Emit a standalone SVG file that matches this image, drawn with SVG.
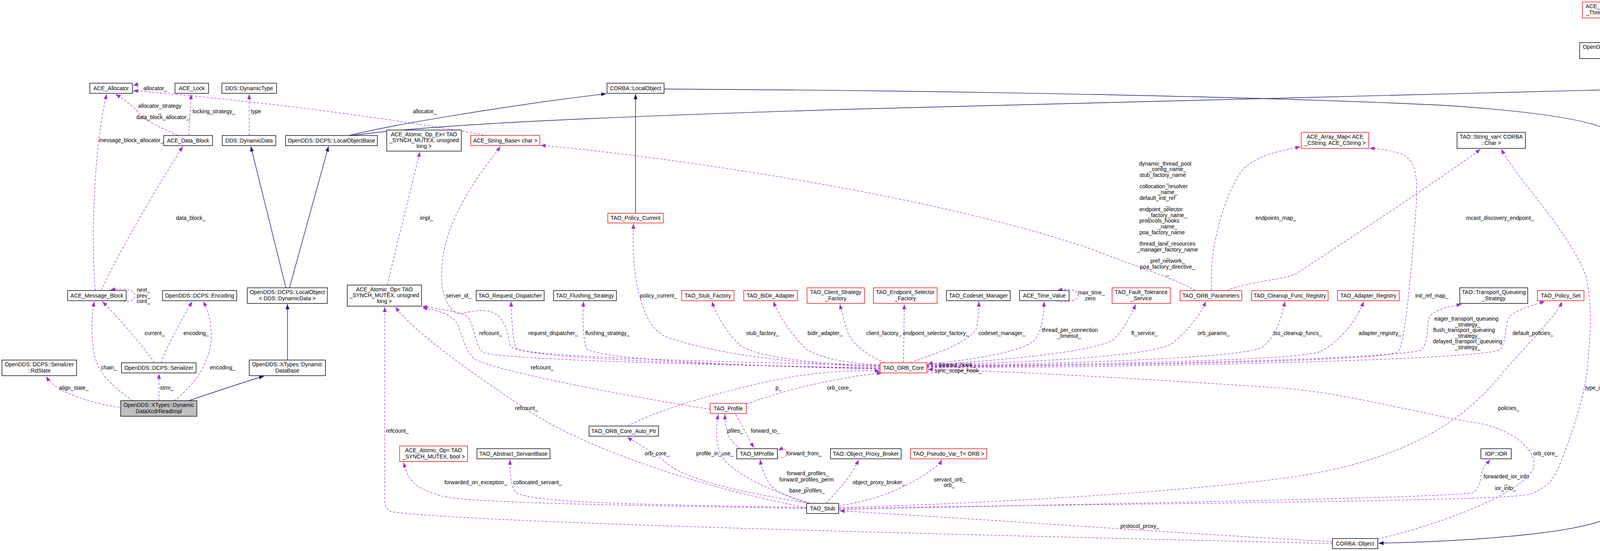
<svg xmlns="http://www.w3.org/2000/svg" width="4500" height="1411" viewBox="0 0 4500 1411">
<style>
text{font-family:"Liberation Sans",Arial,sans-serif;font-size:14px;fill:#000}
.b rect{fill:#fff;stroke:#000;stroke-width:1.4}
.b.r rect{stroke:#f00}
.b.g rect{fill:#bfbfbf}
.b text{text-anchor:middle}
.e{fill:none;stroke:#9a32cd;stroke-width:1.2;stroke-dasharray:6,4;marker-end:url(#pa)}
.i{fill:none;stroke:#191970;stroke-width:1.4;marker-end:url(#na)}
.m{text-anchor:middle}
</style>
<defs>
<marker id="pa" markerUnits="userSpaceOnUse" markerWidth="14" markerHeight="12" refX="13" refY="5" orient="auto"><path d="M0,0L13,5L0,10z" fill="#9a32cd"/></marker>
<marker id="na" markerUnits="userSpaceOnUse" markerWidth="14" markerHeight="12" refX="13" refY="5" orient="auto"><path d="M0,0L13,5L0,10z" fill="#191970"/></marker>
</defs>
<rect width="4500" height="1411" fill="#fff"/>
<g id="edges">
<path class="e" d="M339,235 C357,238 357,214 341,219"/>
<path class="e" d="M455,347 C420,330 370,310 355,290 C340,270 310,250 296,241"/>
<path class="e" d="M483,347 C486,300 488,270 489,241"/>
<path class="e" d="M638,347 L638,241"/>
<path class="e" d="M1248,347 C1150,330 800,270 341,232"/>
<path class="e" d="M244,744 C235,650 235,400 273,241"/>
<path class="e" d="M259,744 C300,650 420,450 468,375"/>
<path class="e" d="M305,770 C330,776 345,770 345,757 C345,740 320,738 282,742"/>
<path class="e" d="M395,929 C370,890 300,810 262,772"/>
<path class="e" d="M412,929 C430,880 470,810 492,772"/>
<path class="e" d="M340,1026 C290,990 250,960 240,900 C232,850 235,800 242,772"/>
<path class="e" d="M446,1026 C480,1000 530,950 540,880 C545,830 530,790 520,772"/>
<path class="e" d="M407,1026 L407,957"/>
<path class="e" d="M307,1043 C250,1035 200,1020 160,1000 C135,985 125,975 118,964"/>
<path class="i" d="M483,1026 C560,1000 620,980 676,963"/>
<path class="i" d="M736,922 L736,779"/>
<path class="i" d="M732,737 L642,375"/>
<path class="i" d="M741,737 L841,375"/>
<path class="i" d="M893,347 C1000,320 1300,270 1552,240"/>
<path class="i" d="M900,347 C1100,320 1500,300 2200,279 C3000,256 3700,242 4110,230"/>
<path class="i" d="M1627,546 L1627,241"/>
<path class="i" d="M1700,228 C2500,232 3300,250 3700,270 C4000,290 4142,320 4142,360 L4142,1300 C4142,1360 3800,1385 3529,1391"/>
<path class="e" d="M991,730 L1075,389"/>
<path class="e" d="M2253,942 C1800,935 1260,920 1236,902 C1215,885 1215,830 1196,810 C1170,795 1110,790 1081,784"/>
<path class="e" d="M1818,1048 C1700,1030 1300,960 1218,921 C1190,900 1185,860 1178,850 C1170,815 1150,800 1081,788"/>
<path class="e" d="M2065,1300 C1800,1250 1500,1150 1350,1050 C1200,950 1060,850 1012,786"/>
<path class="e" d="M3411,1392 C2500,1370 1200,1340 1000,1310 C985,1300 985,1290 985,1280 L985,786"/>
<path class="e" d="M2253,936 C1800,925 1320,915 1307,887 C1300,850 1290,800 1245,796 C1200,792 1180,810 1165,800 C1130,770 1125,720 1135,650 C1160,520 1250,420 1281,375"/>
<path class="e" d="M2253,944 C1900,935 1340,920 1320,890 C1310,850 1310,800 1308,772"/>
<path class="e" d="M2253,945 C1900,938 1510,920 1500,890 C1490,850 1492,800 1494,772"/>
<path class="e" d="M2253,940 C2000,930 1800,900 1700,860 C1640,830 1615,700 1622,573"/>
<path class="e" d="M2253,937 C2050,930 1920,910 1890,880 C1860,850 1830,800 1823,772"/>
<path class="e" d="M2253,935 C2150,930 2080,910 2060,890 C2020,850 1990,800 1980,772"/>
<path class="e" d="M2265,929 C2220,910 2180,880 2170,850 C2160,820 2155,800 2150,779"/>
<path class="e" d="M2313,929 L2315,779"/>
<path class="e" d="M2330,929 C2380,910 2480,880 2500,840 C2505,810 2506,790 2506,772"/>
<path class="e" d="M2373,933 C2500,920 2620,900 2650,870 C2670,840 2672,800 2673,772"/>
<path class="e" d="M2705,770 C2730,778 2760,770 2760,757 C2760,740 2730,738 2707,744"/>
<path class="e" d="M2373,935 C2600,920 2800,900 2850,870 C2880,840 2900,800 2907,779"/>
<path class="e" d="M2373,936 C2700,925 2950,910 3000,880 C3050,840 3075,800 3087,772"/>
<path class="e" d="M2373,937 C2800,930 3180,915 3230,890 C3270,860 3280,810 3290,772"/>
<path class="e" d="M2373,938 C2900,932 3340,920 3380,900 C3420,880 3470,830 3491,772"/>
<path class="e" d="M2373,939 C2900,935 3560,925 3580,900 C3600,880 3620,600 3626,520 C3630,440 3620,410 3590,395 C3560,385 3530,380 3506,380"/>
<path class="e" d="M2373,940 C3000,935 3620,915 3640,895 C3660,870 3650,830 3660,810 C3680,790 3710,785 3742,779"/>
<path class="e" d="M2373,942 C3000,940 3820,920 3840,895 C3860,870 3850,830 3865,810 C3880,795 3920,782 3955,772"/>
<path class="e" d="M2373,951 C2390,958 2410,952 2410,942 C2410,932 2390,928 2375,933"/>
<path class="e" d="M3060,744 C3000,710 2900,680 2800,640 C2400,500 1700,400 1384,372"/>
<path class="e" d="M3101,744 L3101,700 C3105,600 3140,500 3170,450 C3200,400 3280,385 3329,376"/>
<path class="e" d="M3140,744 C3200,720 3300,714 3320,700 C3500,580 3700,450 3790,382"/>
<path class="e" d="M2149,1302 C2800,1290 3800,1285 3912,1267 C3960,1250 3975,1230 3989,1199 C4030,1100 4060,1000 4065,927 C4072,850 4078,780 4058,700 C4000,570 3900,480 3843,382"/>
<path class="e" d="M2147,1300 C2800,1280 3200,1240 3350,1215 C3600,1170 3750,1080 3850,950 C3940,850 3990,800 3998,772"/>
<path class="e" d="M2147,1305 C2800,1290 3700,1275 3770,1262 C3790,1250 3790,1220 3795,1205 C3800,1190 3808,1185 3815,1177"/>
<path class="e" d="M3527,1380 C3700,1340 3900,1260 3925,1200 C3940,1150 3860,1090 3760,1080 C3600,1050 3450,1010 3300,995 C3000,975 2600,950 2375,946"/>
<path class="e" d="M3411,1387 C3000,1365 2600,1335 2149,1308"/>
<path class="e" d="M1607,1091 C1700,1040 1900,990 2000,970 C2100,950 2200,948 2253,950"/>
<path class="e" d="M1911,1035 C2000,1000 2150,965 2258,955"/>
<path class="e" d="M2070,1289 C1900,1260 1750,1230 1700,1180 C1660,1150 1620,1130 1606,1119"/>
<path class="e" d="M2075,1289 C1950,1250 1850,1200 1840,1150 C1830,1110 1835,1080 1839,1061"/>
<path class="e" d="M1895,1149 C1870,1130 1855,1110 1856,1061"/>
<path class="e" d="M1884,1062 C1900,1090 1915,1120 1930,1147"/>
<path class="e" d="M1990,1170 C2005,1176 2015,1168 2015,1160 C2015,1150 2005,1147 1992,1153"/>
<path class="e" d="M2072,1289 C2000,1270 1970,1250 1960,1220 C1950,1200 1948,1190 1946,1177"/>
<path class="e" d="M2115,1289 C2150,1250 2180,1220 2198,1177"/>
<path class="e" d="M2147,1295 C2250,1280 2310,1250 2360,1220 C2390,1200 2405,1190 2411,1177"/>
<path class="e" d="M2065,1302 C1700,1295 1200,1290 1130,1270 C1060,1250 1045,1230 1033,1184"/>
<path class="e" d="M2065,1300 C1700,1292 1350,1290 1320,1260 C1305,1240 1305,1200 1306,1177"/>
<path class="e" d="M4133,109 L4133,48"/>
<path class="e" d="M4198,213 C4190,190 4180,170 4151,152"/>
<path class="i" d="M4227,213 L4340,145"/>
<path class="i" d="M4308,347 C4350,300 4374,260 4374,200 L4373,145"/>
<path class="e" d="M4250,347 C4220,330 4200,300 4198,270 C4197,255 4199,250 4199,241"/>
<path class="e" d="M4222,239 C4240,270 4260,310 4275,345"/>
</g>
<g id="labels">
<text x="367" y="231">allocator_</text>
<text class="m" x="409" y="276">allocator_strategy</text>
<text class="m" x="409" y="290">_</text>
<text class="m" x="417" y="305">data_block_allocator_</text>
<text x="493" y="290">locking_strategy_</text>
<text x="642" y="290">type</text>
<text x="1057" y="290">allocator_</text>
<text x="253" y="364">message_block_allocator_</text>
<text class="m" x="488" y="563">data_block_</text>
<text x="1075" y="563">impl_</text>
<text x="350" y="747">next_</text>
<text x="350" y="762">prev_</text>
<text x="350" y="776">cont_</text>
<text class="m" x="396" y="858">current_</text>
<text class="m" x="502" y="858">encoding_</text>
<text class="m" x="279" y="946">chain_</text>
<text class="m" x="570" y="946">encoding_</text>
<text class="m" x="189" y="998">align_state_</text>
<text class="m" x="427" y="998">strm_</text>
<text x="988" y="1108">refcount_</text>
<text class="m" x="1174" y="762">server_id_</text>
<text class="m" x="1256" y="858">refcount_</text>
<text class="m" x="1416" y="858">request_dispatcher_</text>
<text class="m" x="1555" y="858">flushing_strategy_</text>
<text class="m" x="1686" y="762">policy_current_</text>
<text class="m" x="1952" y="858">stub_factory_</text>
<text class="m" x="2112" y="858">bidir_adapter_</text>
<text class="m" x="1388" y="946">refcount_</text>
<text class="m" x="1993" y="998">p_</text>
<text class="m" x="2149" y="998">orb_core_</text>
<text class="m" x="1348" y="1050">refcount_</text>
<text class="m" x="1882" y="1108">pfiles_</text>
<text class="m" x="1959" y="1108">forward_to_</text>
<text class="m" x="1682" y="1166">orb_core_</text>
<text class="m" x="1830" y="1166">profile_in_use_</text>
<text class="m" x="2058" y="1166">forward_from_</text>
<text class="m" x="1218" y="1240">forwarded_on_exception_</text>
<text class="m" x="1376" y="1240">collocated_servant_</text>
<text class="m" x="2068" y="1217">forward_profiles_</text>
<text class="m" x="2065" y="1233">forward_profiles_perm</text>
<text class="m" x="2066" y="1247">_</text>
<text class="m" x="2066" y="1261">base_profiles_</text>
<text class="m" x="2250" y="1240">object_proxy_broker_</text>
<text class="m" x="2794" y="754">max_time_</text>
<text class="m" x="2791" y="769">zero</text>
<text class="m" x="2263" y="858">client_factory_</text>
<text class="m" x="2396" y="858">endpoint_selector_factory_</text>
<text class="m" x="2565" y="858">codeset_manager_</text>
<text class="m" x="2739" y="850">thread_per_connection</text>
<text class="m" x="2737" y="865">_timeout_</text>
<text class="m" x="2930" y="858">ft_service_</text>
<text class="m" x="3107" y="858">orb_params_</text>
<text class="m" x="3322" y="858">tss_cleanup_funcs_</text>
<text class="m" x="2451" y="939">timeout_hook_</text>
<text class="m" x="2453" y="954">sync_scope_hook_</text>
<text class="m" x="2431" y="1233">servant_orb_</text>
<text class="m" x="2430" y="1247">orb_</text>
<text class="m" x="2918" y="1352">protocol_proxy_</text>
<text class="m" x="2983" y="424">dynamic_thread_pool</text>
<text class="m" x="2989" y="438">_config_name_</text>
<text x="2917" y="453">stub_factory_name</text>
<text class="m" x="2989" y="469">_</text>
<text x="2917" y="482">collocation_resolver</text>
<text class="m" x="2989" y="497">_name_</text>
<text x="2917" y="512">default_init_ref</text>
<text class="m" x="2989" y="527">_</text>
<text x="2917" y="541">endpoint_selector</text>
<text class="m" x="2989" y="556">_factory_name_</text>
<text x="2917" y="570">protocols_hooks</text>
<text class="m" x="2989" y="585">_name_</text>
<text x="2917" y="600">poa_factory_name</text>
<text class="m" x="2989" y="616">_</text>
<text x="2917" y="629">thread_lane_resources</text>
<text class="m" x="2989" y="644">_manager_factory_name</text>
<text class="m" x="2989" y="659">_</text>
<text class="m" x="2989" y="673">pref_network_</text>
<text class="m" x="2989" y="688">poa_factory_directive_</text>
<text class="m" x="2989" y="704">_</text>
<text x="3214" y="563">endpoints_map_</text>
<text x="4136" y="82">impl_</text>
<text x="4180" y="186">ref_count_</text>
<text x="4207" y="290">ptr_</text>
<text x="4263" y="290">weak_object_</text>
<text class="m" x="3840" y="563">mcast_discovery_endpoint_</text>
<text x="3623" y="762">init_ref_map_</text>
<text x="3478" y="858">adapter_registry_</text>
<text class="m" x="3754" y="821">eager_transport_queueing</text>
<text class="m" x="3757" y="836">_strategy_</text>
<text class="m" x="3748" y="850">flush_transport_queueing</text>
<text class="m" x="3757" y="865">_strategy_</text>
<text class="m" x="3757" y="879">delayed_transport_queueing</text>
<text class="m" x="3757" y="894">_strategy_</text>
<text x="3872" y="858">default_policies_</text>
<text x="4058" y="998">type_id</text>
<text x="3835" y="1050">policies_</text>
<text x="3925" y="1166">orb_core_</text>
<text class="m" x="3856" y="1225">forwarded_ior_info</text>
<text class="m" x="3856" y="1240">_</text>
<text class="m" x="3854" y="1255">ior_info_</text>
</g>
<g id="n1" class="b"><rect x="230" y="213" width="109" height="26"/><text x="284.5" y="231">ACE_Allocator</text></g>
<g id="n2" class="b"><rect x="448" y="213" width="86" height="26"/><text x="491" y="231">ACE_Lock</text></g>
<g id="n3" class="b"><rect x="568" y="213" width="140" height="26"/><text x="638" y="231">DDS::DynamicType</text></g>
<g id="n4" class="b"><rect x="419" y="347" width="125" height="26"/><text x="481.5" y="365">ACE_Data_Block</text></g>
<g id="n5" class="b"><rect x="569" y="347" width="137" height="26"/><text x="637.5" y="365">DDS::DynamicData</text></g>
<g id="n6" class="b"><rect x="731" y="347" width="235" height="26"/><text x="848.5" y="365">OpenDDS::DCPS::LocalObjectBase</text></g>
<g id="n7" class="b"><rect x="990" y="333" width="191" height="54"/><text x="1085.5" y="349">ACE_Atomic_Op_Ex&lt; TAO</text><text x="1085.5" y="364">_SYNCH_MUTEX, unsigned</text><text x="1085.5" y="379">long &gt;</text></g>
<g id="n8" class="b r"><rect x="1205" y="347" width="177" height="26"/><text x="1293.5" y="365">ACE_String_Base&lt; char &gt;</text></g>
<g id="n9" class="b"><rect x="1554" y="213" width="146" height="26"/><text x="1627" y="231">CORBA::LocalObject</text></g>
<g id="n10" class="b r"><rect x="1556" y="546" width="142" height="25"/><text x="1627" y="563">TAO_Policy_Current</text></g>
<g id="n11" class="b"><rect x="173" y="744" width="150" height="26"/><text x="248" y="762">ACE_Message_Block</text></g>
<g id="n12" class="b"><rect x="416" y="744" width="190" height="26"/><text x="511" y="762">OpenDDS::DCPS::Encoding</text></g>
<g id="n13" class="b"><rect x="633" y="737" width="205" height="40"/><text x="735.5" y="753">OpenDDS::DCPS::LocalObject</text><text x="735.5" y="769">&lt; DDS::DynamicData &gt;</text></g>
<g id="n14" class="b"><rect x="889" y="730" width="190" height="54"/><text x="984" y="746">ACE_Atomic_Op&lt; TAO</text><text x="984" y="761">_SYNCH_MUTEX, unsigned</text><text x="984" y="776">long &gt;</text></g>
<g id="n15" class="b"><rect x="5" y="922" width="191" height="40"/><text x="100.5" y="938">OpenDDS::DCPS::Serializer</text><text x="100.5" y="954">::RdState</text></g>
<g id="n16" class="b"><rect x="311" y="929" width="191" height="26"/><text x="406.5" y="947">OpenDDS::DCPS::Serializer</text></g>
<g id="n17" class="b"><rect x="638" y="922" width="195" height="40"/><text x="735.5" y="938">OpenDDS::XTypes::Dynamic</text><text x="735.5" y="954">DataBase</text></g>
<g id="n18" class="b g"><rect x="309" y="1026" width="195" height="40"/><text x="406.5" y="1042">OpenDDS::XTypes::Dynamic</text><text x="406.5" y="1058">DataXcdrReadImpl</text></g>
<g id="n19" class="b r"><rect x="1023" y="1142" width="174" height="40"/><text x="1110" y="1158">ACE_Atomic_Op&lt; TAO</text><text x="1110" y="1174">_SYNCH_MUTEX, bool &gt;</text></g>
<g id="n20" class="b"><rect x="1219" y="744" width="174" height="26"/><text x="1306" y="762">TAO_Request_Dispatcher</text></g>
<g id="n21" class="b"><rect x="1417" y="744" width="161" height="26"/><text x="1497.5" y="762">TAO_Flushing_Strategy</text></g>
<g id="n22" class="b r"><rect x="1745" y="744" width="134" height="26"/><text x="1812" y="762">TAO_Stub_Factory</text></g>
<g id="n23" class="b r"><rect x="1904" y="744" width="137" height="26"/><text x="1972.5" y="762">TAO_BiDir_Adapter</text></g>
<g id="n24" class="b r"><rect x="2066" y="737" width="147" height="40"/><text x="2139.5" y="753">TAO_Client_Strategy</text><text x="2139.5" y="769">_Factory</text></g>
<g id="n25" class="b r"><rect x="2236" y="737" width="163" height="40"/><text x="2317.5" y="753">TAO_Endpoint_Selector</text><text x="2317.5" y="769">_Factory</text></g>
<g id="n26" class="b"><rect x="2423" y="744" width="163" height="26"/><text x="2504.5" y="762">TAO_Codeset_Manager</text></g>
<g id="n27" class="b"><rect x="2610" y="744" width="127" height="26"/><text x="2673.5" y="762">ACE_Time_Value</text></g>
<g id="n28" class="b r"><rect x="2847" y="737" width="149" height="40"/><text x="2921.5" y="753">TAO_Fault_Tolerance</text><text x="2921.5" y="769">_Service</text></g>
<g id="n29" class="b r"><rect x="3021" y="744" width="158" height="26"/><text x="3100" y="762">TAO_ORB_Parameters</text></g>
<g id="n30" class="b r"><rect x="3204" y="744" width="196" height="26"/><text x="3302" y="762">TAO_Cleanup_Func_Registry</text></g>
<g id="n31" class="b r"><rect x="3424" y="744" width="158" height="26"/><text x="3503" y="762">TAO_Adapter_Registry</text></g>
<g id="n32" class="b"><rect x="3737" y="737" width="174" height="40"/><text x="3824" y="753">TAO::Transport_Queueing</text><text x="3824" y="769">_Strategy</text></g>
<g id="n33" class="b r"><rect x="3936" y="744" width="119" height="26"/><text x="3995.5" y="762">TAO_Policy_Set</text></g>
<g id="n34" class="b r"><rect x="2253" y="929" width="120" height="26"/><text x="2313" y="947">TAO_ORB_Core</text></g>
<g id="n35" class="b r"><rect x="1818" y="1033" width="93" height="26"/><text x="1864.5" y="1051">TAO_Profile</text></g>
<g id="n36" class="b"><rect x="1508" y="1091" width="178" height="26"/><text x="1597" y="1109">TAO_ORB_Core_Auto_Ptr</text></g>
<g id="n37" class="b"><rect x="1221" y="1149" width="187" height="26"/><text x="1314.5" y="1167">TAO_Abstract_ServantBase</text></g>
<g id="n38" class="b"><rect x="1886" y="1149" width="104" height="26"/><text x="1938" y="1167">TAO_MProfile</text></g>
<g id="n39" class="b"><rect x="2126" y="1149" width="181" height="26"/><text x="2216.5" y="1167">TAO::Object_Proxy_Broker</text></g>
<g id="n40" class="b r"><rect x="2331" y="1149" width="195" height="26"/><text x="2428.5" y="1167">TAO_Pseudo_Var_T&lt; ORB &gt;</text></g>
<g id="n41" class="b"><rect x="3791" y="1149" width="78" height="26"/><text x="3830" y="1167">IOP::IOR</text></g>
<g id="n42" class="b"><rect x="2065" y="1289" width="82" height="26"/><text x="2106" y="1307">TAO_Stub</text></g>
<g id="n43" class="b"><rect x="3411" y="1379" width="116" height="26"/><text x="3469" y="1397">CORBA::Object</text></g>
<g id="n44" class="b r"><rect x="4051" y="5" width="163" height="41"/><text x="4132.5" y="21">ACE_Atomic_Op&lt; ACE</text><text x="4132.5" y="37">_Thread_Mutex, long &gt;</text></g>
<g id="n45" class="b"><rect x="4044" y="109" width="177" height="41"/><text x="4132.5" y="125">OpenDDS::DCPS::Atomic</text><text x="4132.5" y="141">&lt; long &gt;</text></g>
<g id="n46" class="b"><rect x="4245" y="117" width="249" height="26"/><text x="4369.5" y="135">OpenDDS::DCPS::PoolAllocationBase</text></g>
<g id="n47" class="b"><rect x="4112" y="213" width="190" height="26"/><text x="4207" y="231">OpenDDS::DCPS::RcObject</text></g>
<g id="n48" class="b"><rect x="4181" y="347" width="206" height="26"/><text x="4284" y="365">OpenDDS::DCPS::WeakObject</text></g>
<g id="n49" class="b r"><rect x="3331" y="339" width="173" height="41"/><text x="3417.5" y="355">ACE_Array_Map&lt; ACE</text><text x="3417.5" y="371">_CString, ACE_CString &gt;</text></g>
<g id="n50" class="b"><rect x="3730" y="339" width="175" height="41"/><text x="3817.5" y="355">TAO::String_var&lt; CORBA</text><text x="3817.5" y="371">::Char &gt;</text></g>
</svg>
